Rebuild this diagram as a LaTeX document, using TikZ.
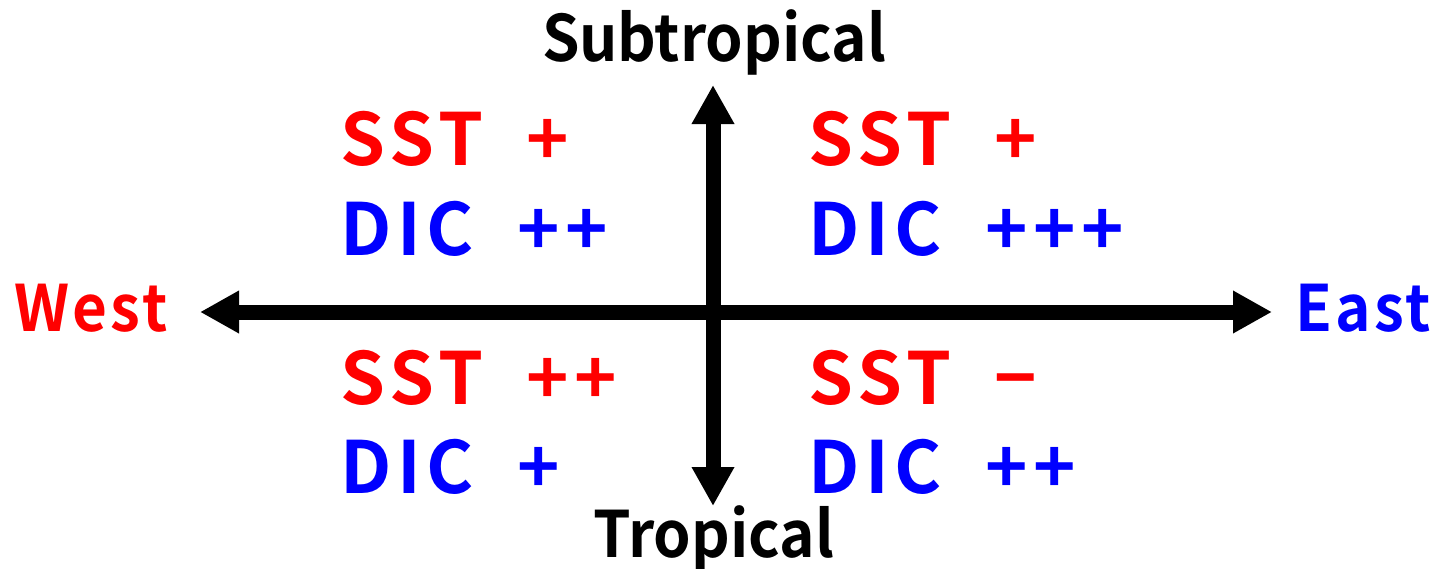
\documentclass[tikz,border=0pt]{standalone}
\usepackage{fontspec}
\setmainfont{Noto Sans CJK JP}[UprightFont={* Bold}, FakeStretch=0.94]
\newfontfamily\widedir{Noto Sans CJK JP}[UprightFont={* Bold}, FakeStretch=0.94, LetterSpace=5]
\newfontfamily\spaced{Noto Sans CJK JP}[UprightFont={* Bold}, LetterSpace=8]
\newcommand\lblfont{\fontsize{72}{72}\spaced}
\newcommand\gap{\hspace{0.6em}}
\usetikzlibrary{arrows.meta}
\definecolor{pred}{RGB}{255,0,0}
\definecolor{pblue}{RGB}{0,0,255}
\tikzset{
  axis/.style={line width=15pt, draw=black, -{Triangle[length=39pt,width=40pt]}},
  lbl/.style={inner sep=0pt, anchor=base west, font=\lblfont},
  sst/.style={lbl, text=pred},
  dic/.style={lbl, text=pblue},
  dir/.style={inner sep=0pt, anchor=base, font=\fontsize{64}{64}\selectfont},
  side/.style={dir, anchor=base west, font=\fontsize{64}{64}\widedir},
}
\begin{document}
\begin{tikzpicture}[x=1pt,y=-1pt]
\useasboundingbox (0,0) rectangle (1437,568);
\coordinate (C) at (713,312);
\coordinate (L) at (200,312);
\coordinate (R) at (1272,312);
\coordinate (U) at (713,85);
\coordinate (D) at (713,506);
\draw[axis] (C) -- (L);
\draw[axis] (C) -- (R);
\draw[axis] (C) -- (U);
\draw[axis] (C) -- (D);
\node[dir] (sub) at (714,61) {Subtropical};
\node[dir] (tro) at (714,557) {Tropical};
\node[side, text=pred] (west) at (14,331) {West};
\node[side, text=pblue] (east) at (1295,331) {East};
\node[sst] (s1) at (340,165) {SST\gap+};
\node[dic] (d1) at (340,255) {DIC\gap++};
\node[sst] (s2) at (808,165) {SST\gap+};
\node[dic] (d2) at (808,255) {DIC\gap+++};
\node[sst] (s3) at (340,404) {SST\gap++};
\node[dic] (d3) at (340,493) {DIC\gap+};
\node[sst] (s4) at (808,404) {SST\gap−};
\node[dic] (d4) at (808,493) {DIC\gap++};
\end{tikzpicture}
\end{document}
